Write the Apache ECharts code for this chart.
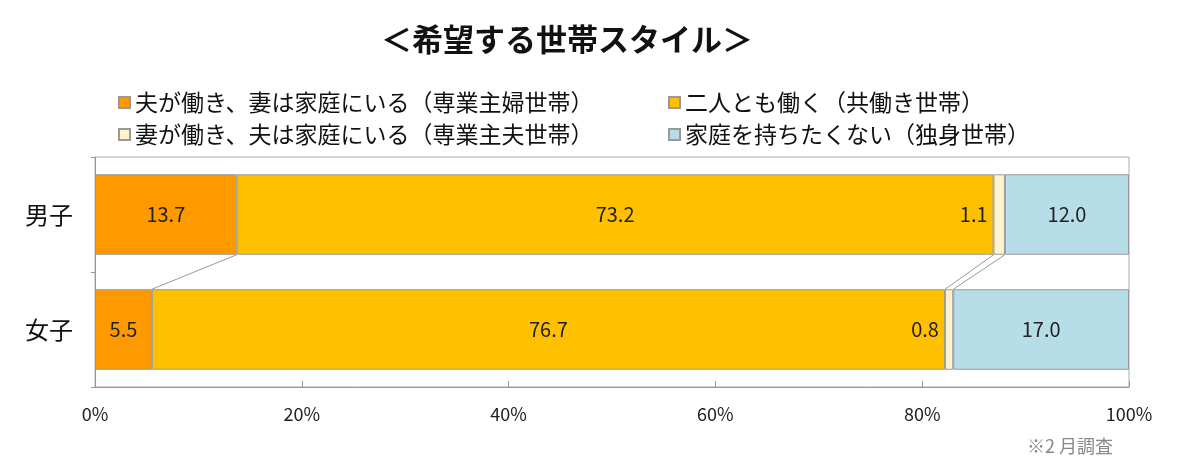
<!DOCTYPE html>
<html><head><meta charset="utf-8">
<script src="https://cdn.jsdelivr.net/npm/echarts@6/dist/echarts.min.js"></script>
<style>html,body{margin:0;padding:0;background:#fff}#c{width:1200px;height:469px}</style>
</head><body><div id="c"></div>
<script>
const categories = ['男子', '女子'];
const seriesNames = [
  '夫が働き、妻は家庭にいる（専業主婦世帯）',
  '二人とも働く（共働き世帯）',
  '妻が働き、夫は家庭にいる（専業主夫世帯）',
  '家庭を持ちたくない（独身世帯）'
];
const housewife = [13.7, 5.5];
const dualIncome = [73.2, 76.7];
const househusband = [1.1, 0.8];
const single = [12.0, 17.0];
const xTicks = [0, 20, 40, 60, 80, 100];
const titleText = '＜希望する世帯スタイル＞';
const noteText = '※2 月調査';

const colors = ['#FF9900', '#FFC000', '#FFF2CC', '#B7DDE8'];
const values = [housewife, dualIncome, househusband, single];
const FONT = '"Noto Sans CJK JP", "Noto Sans", sans-serif';

// cumulative boundaries for connector lines
const connectors = [];
for (let k = 0; k < 3; k++) {
  let m = 0, f = 0;
  for (let j = 0; j <= k; j++) { m += values[j][0]; f += values[j][1]; }
  connectors.push([m, categories[0], f]);
}

const barSeries = values.map((v, i) => ({
  name: seriesNames[i],
  type: 'bar',
  stack: 'total',
  barCategoryGap: '30%',
  data: v,
  itemStyle: { color: colors[i], borderColor: '#999', borderWidth: 1 },
  label: {
    show: true,
    position: i === 2 ? 'left' : 'inside',
    distance: 6,
    fontSize: 20,
    fontFamily: FONT,
    color: '#222',
    formatter: p => p.value.toFixed(1)
  },
  emphasis: { disabled: true },
  silent: true,
  z: 3
}));

const legendText = { fontSize: 23, color: '#111', fontFamily: FONT, lineHeight: 21 };

const option = {
  animation: false,
  textStyle: { fontFamily: FONT },
  title: [{
    text: titleText,
    left: 562, top: 19, textAlign: 'center',
    textStyle: { fontSize: 31, fontWeight: 'bold', color: '#111', fontFamily: FONT }
  }, {
    text: noteText,
    left: 1022, top: 432,
    textStyle: { fontSize: 18, fontWeight: 'normal', color: '#888', fontFamily: FONT }
  }],
  legend: [{
    data: [seriesNames[0], seriesNames[2]],
    orient: 'vertical', left: 113, top: 86,
    itemWidth: 11, itemHeight: 11, itemGap: 9, icon: 'rect',
    textStyle: legendText
  }, {
    data: [seriesNames[1], seriesNames[3]],
    orient: 'vertical', left: 663, top: 86,
    itemWidth: 11, itemHeight: 11, itemGap: 9, icon: 'rect',
    textStyle: legendText
  }],
  grid: {
    left: 95, right: 71, top: 157, bottom: 82,
    show: true, borderColor: '#aaa', borderWidth: 1
  },
  xAxis: {
    type: 'value', min: xTicks[0], max: xTicks[xTicks.length - 1], interval: 20,
    axisLine: { show: true, lineStyle: { color: '#999' } },
    axisTick: { show: true, inside: true, length: 6, lineStyle: { color: '#999' } },
    splitLine: { show: false },
    axisLabel: { formatter: '{value}%', fontSize: 18, color: '#222', margin: 18, fontFamily: FONT }
  },
  yAxis: {
    type: 'category', data: categories, inverse: true,
    axisLine: { show: true, lineStyle: { color: '#999' } },
    axisTick: { show: true, length: 4, lineStyle: { color: '#999' } },
    axisLabel: { fontSize: 24, color: '#111', margin: 22, fontFamily: FONT }
  },
  series: [...barSeries, {
    type: 'custom',
    silent: true,
    data: connectors,
    encode: { x: [0, 2], y: 1 },
    z: 2,
    renderItem: function (params, api) {
      const band = api.size([0, 1])[1];
      const h = band * 0.7;
      const p1 = api.coord([api.value(0), 0]);
      const p2 = api.coord([api.value(2), 1]);
      return {
        type: 'line',
        shape: { x1: p1[0], y1: p1[1] + h / 2, x2: p2[0], y2: p2[1] - h / 2 },
        style: { stroke: '#999', lineWidth: 1 }
      };
    }
  }]
};

const chart = echarts.init(document.getElementById('c'), null, { renderer: 'canvas' });
chart.setOption(option);
</script>
</body></html>
